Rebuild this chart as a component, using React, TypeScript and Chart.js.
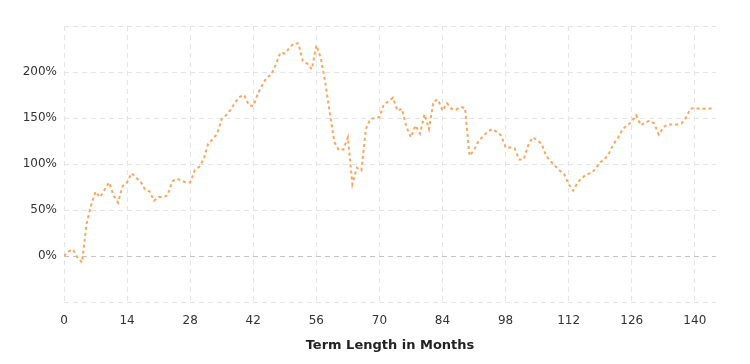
import React, { useEffect, useRef } from "react";
import { Chart, registerables } from "chart.js";

Chart.register(...registerables);

const months: number[] = Array.from({ length: 145 }, (_, i) => i);
const returnsPct: number[] = [
  0, 5, 7, -2, -7, 35, 55, 70, 64, 72,
  80, 66, 58, 76, 80, 90, 85, 81, 72, 70,
  60, 64, 64, 66, 81, 84, 82, 80, 80, 93,
  97, 105, 122, 127, 133, 149, 153, 159, 167, 173,
  175, 164, 163, 176, 186, 194, 197, 208, 221, 220,
  226, 231, 231, 212, 209, 203, 229, 215, 188, 155,
  124, 115, 116, 129, 78, 96, 93, 138, 149, 150,
  151, 165, 168, 172, 158, 160, 140, 129, 142, 133,
  154, 138, 168, 170, 158, 166, 160, 159, 162, 161,
  109, 115, 125, 130, 135, 138, 135, 131, 118, 118,
  117, 105, 105, 120, 129, 126, 122, 109, 103, 98,
  93, 89, 78, 71, 80, 85, 89, 90, 95, 102,
  105, 112, 122, 129, 138, 142, 146, 153, 142, 145,
  147, 144, 132, 140, 143, 143, 143, 144, 150, 160,
  161, 160, 160, 160, 161,
];
const xTickValues: number[] = [0, 14, 28, 42, 56, 70, 84, 98, 112, 126, 140];
const yTickValues: number[] = [-50, 0, 50, 100, 150, 200, 250];
const yLabelValues: number[] = [0, 50, 100, 150, 200];

export default function App() {
  const ref = useRef<HTMLCanvasElement | null>(null);
  useEffect(() => {
    if (!ref.current) return;
    const chart = new Chart(ref.current, {
      type: "line",
      data: {
        datasets: [
          {
            data: months.map((m, i) => ({ x: m, y: returnsPct[i] })),
            borderColor: "rgb(250,166,96)",
            borderWidth: 2,
            borderDash: [3, 3],
            pointRadius: 0,
            tension: 0,
            fill: false,
          },
        ],
      },
      options: {
        responsive: false,
        animation: false,
        layout: { padding: { left: 0, right: 34, top: 26, bottom: 0 } },
        plugins: { legend: { display: false }, tooltip: { enabled: false } },
        scales: {
          x: {
            type: "linear",
            min: 0,
            max: 144.7,
            afterBuildTicks: (axis: any) => {
              axis.ticks = xTickValues.map((v) => ({ value: v }));
            },
            afterFit: (axis: any) => {
              axis.height = 62;
            },
            grid: { color: "#e4e4e4", lineWidth: 1, drawTicks: false },
            border: { display: false, dash: [5, 4] },
            ticks: {
              padding: 12,
              color: "#333",
              font: { family: "DejaVu Sans", size: 12 },
              maxRotation: 0,
              autoSkip: false,
            },
            title: {
              display: true,
              text: "Term Length in Months",
              color: "#222",
              font: { family: "DejaVu Sans", size: 13, weight: "bold" },
              padding: { top: 4, bottom: 11 },
            },
          },
          y: {
            type: "linear",
            min: -50,
            max: 250,
            afterBuildTicks: (axis: any) => {
              axis.ticks = yTickValues.map((v) => ({ value: v }));
            },
            afterFit: (axis: any) => {
              axis.width = 64;
            },
            grid: {
              color: (ctx: any) => (ctx.tick && ctx.tick.value === 0 ? "#c4c4c4" : "#e4e4e4"),
              lineWidth: 1,
              drawTicks: false,
            },
            border: { display: false, dash: [5, 4] },
            ticks: {
              padding: 7,
              color: "#333",
              font: { family: "DejaVu Sans", size: 12 },
              autoSkip: false,
              callback: (v: any) => (yLabelValues.includes(Number(v)) ? `${v}%` : ""),
            },
          },
        },
      },
    });
    return () => chart.destroy();
  }, []);
  return (
    <div style={{ position: "fixed", left: 0, top: 0, width: 750, height: 364, background: "#fff" }}>
      <canvas ref={ref} width={750} height={364} />
    </div>
  );
}
